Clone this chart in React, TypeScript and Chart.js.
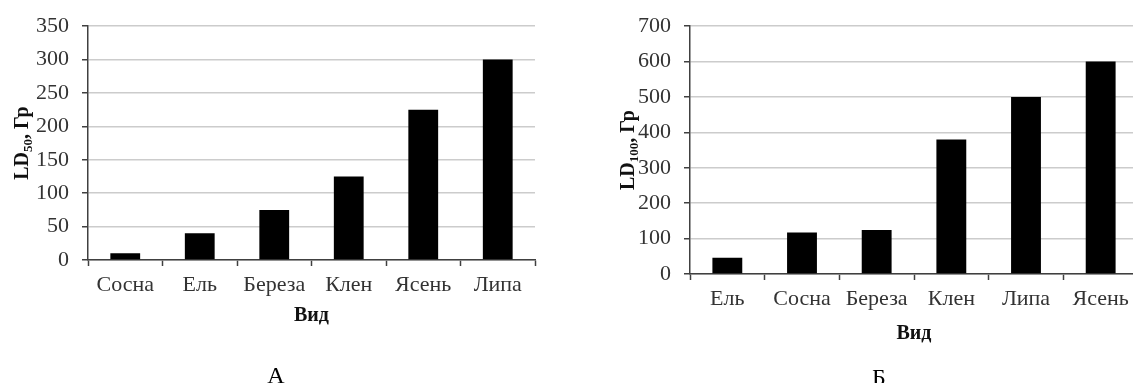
import React, { useEffect, useRef } from "react";
import { Chart, registerables } from "chart.js";

Chart.register(...registerables);

// Chart A
const categoriesA = ["Сосна", "Ель", "Береза", "Клен", "Ясень", "Липа"];
const valuesA = [10, 40, 75, 125, 225, 300];
const yMaxA = 350;
const yStepA = 50;

// Chart B
const categoriesB = ["Ель", "Сосна", "Береза", "Клен", "Липа", "Ясень"];
const valuesB = [46, 117, 124, 380, 500, 600];
const yMaxB = 700;
const yStepB = 100;

const SERIF = "'Liberation Serif', 'DejaVu Serif', serif";

const titlesPlugin = {
  id: "customTitles",
  afterDraw(chart: any, _args: any, opts: any) {
    const ctx = chart.ctx;
    const area = chart.chartArea;
    ctx.save();
    ctx.fillStyle = "#111";
    // y title with subscript
    const mainFont = `bold 20px ${SERIF}`;
    const subFont = `bold 13px ${SERIF}`;
    ctx.font = mainFont;
    const w1 = ctx.measureText(opts.yMain).width;
    const w3 = ctx.measureText(opts.yRest).width;
    ctx.font = subFont;
    const w2 = ctx.measureText(opts.ySub).width;
    const total = w1 + w2 + w3;
    const cx = area.left - opts.yTitleOffset;
    const cy = (area.top + area.bottom) / 2;
    ctx.translate(cx, cy);
    ctx.rotate(-Math.PI / 2);
    ctx.textBaseline = "alphabetic";
    ctx.textAlign = "left";
    let x = -total / 2;
    const base = 7;
    ctx.font = mainFont;
    ctx.fillText(opts.yMain, x, base);
    x += w1;
    ctx.font = subFont;
    ctx.fillText(opts.ySub, x, base + 4);
    x += w2;
    ctx.font = mainFont;
    ctx.fillText(opts.yRest, x, base);
    ctx.restore();

    // x title
    ctx.save();
    ctx.fillStyle = "#111";
    ctx.font = `bold 20px ${SERIF}`;
    ctx.textAlign = "center";
    ctx.textBaseline = "middle";
    ctx.fillText(opts.xTitle, (area.left + area.right) / 2, area.bottom + opts.xTitleOffset);
    // panel letter
    ctx.font = `24px ${SERIF}`;
    ctx.fillStyle = "#000";
    ctx.textBaseline = "alphabetic";
    ctx.fillText(opts.letter, opts.letterX, opts.letterY);
    ctx.restore();
  },
};

function makeConfig(
  categories: string[],
  values: number[],
  yMax: number,
  yStep: number,
  yWidth: number,
  xHeight: number,
  rightPad: number,
  titles: any
): any {
  return {
    type: "bar",
    data: {
      labels: categories,
      datasets: [
        {
          data: values,
          backgroundColor: "#000",
          borderWidth: 0,
          barPercentage: 0.4,
          categoryPercentage: 1,
        },
      ],
    },
    plugins: [titlesPlugin],
    options: {
      animation: false,
      responsive: false,
      maintainAspectRatio: false,
      layout: { padding: { left: 0, right: rightPad, top: 24, bottom: 0 } },
      plugins: {
        legend: { display: false },
        tooltip: { enabled: false },
        title: { display: false },
        customTitles: titles,
      },
      scales: {
        x: {
          grid: {
            offset: true,
            drawOnChartArea: false,
            drawTicks: true,
            tickLength: 6,
            tickColor: "#404040",
            tickWidth: 1.5,
          },
          border: { color: "#404040", width: 1.5 },
          ticks: {
            color: "#333",
            font: { family: SERIF, size: 22 },
            padding: 6,
            maxRotation: 0,
            autoSkip: false,
          },
          afterFit(scale: any) {
            scale.height = xHeight;
          },
        },
        y: {
          min: 0,
          max: yMax,
          ticks: {
            stepSize: yStep,
            color: "#333",
            font: { family: SERIF, size: 22 },
            padding: 13,
          },
          grid: {
            color: "#cccccc",
            lineWidth: 1.5,
            drawTicks: true,
            tickLength: 6,
            tickColor: "#404040",
            tickWidth: 1.5,
          },
          border: { color: "#404040", width: 1.5 },
          afterFit(scale: any) {
            scale.width = yWidth;
          },
        },
      },
    },
  };
}

function BarPanel(props: { config: any; left: number; width: number; height: number }) {
  const ref = useRef<HTMLCanvasElement | null>(null);
  useEffect(() => {
    if (!ref.current) return;
    const chart = new Chart(ref.current, props.config);
    return () => chart.destroy();
  }, []);
  return (
    <canvas
      ref={ref}
      width={props.width}
      height={props.height}
      style={{ position: "absolute", left: props.left, top: 0, width: props.width, height: props.height }}
    />
  );
}

export default function App() {
  const configA = makeConfig(categoriesA, valuesA, yMaxA, yStepA, 88, 123, 25, {
    yMain: "LD",
    ySub: "50",
    yRest: ", Гр",
    yTitleOffset: 67,
    xTitle: "Вид",
    xTitleOffset: 56,
    letter: "А",
    letterX: 276,
    letterY: 383,
  });
  const configB = makeConfig(categoriesB, valuesB, yMaxB, yStepB, 90, 109, 22, {
    yMain: "LD",
    ySub: "100",
    yRest: ", Гр",
    yTitleOffset: 63,
    xTitle: "Вид",
    xTitleOffset: 60,
    letter: "Б",
    letterX: 279,
    letterY: 385,
  });
  return (
    <div
      style={{
        position: "fixed",
        left: 0,
        top: 0,
        width: 1133,
        height: 383,
        overflow: "hidden",
        background: "#fff",
      }}
    >
      <BarPanel config={configA} left={0} width={560} height={383} />
      <BarPanel config={configB} left={600} width={560} height={383} />
    </div>
  );
}
